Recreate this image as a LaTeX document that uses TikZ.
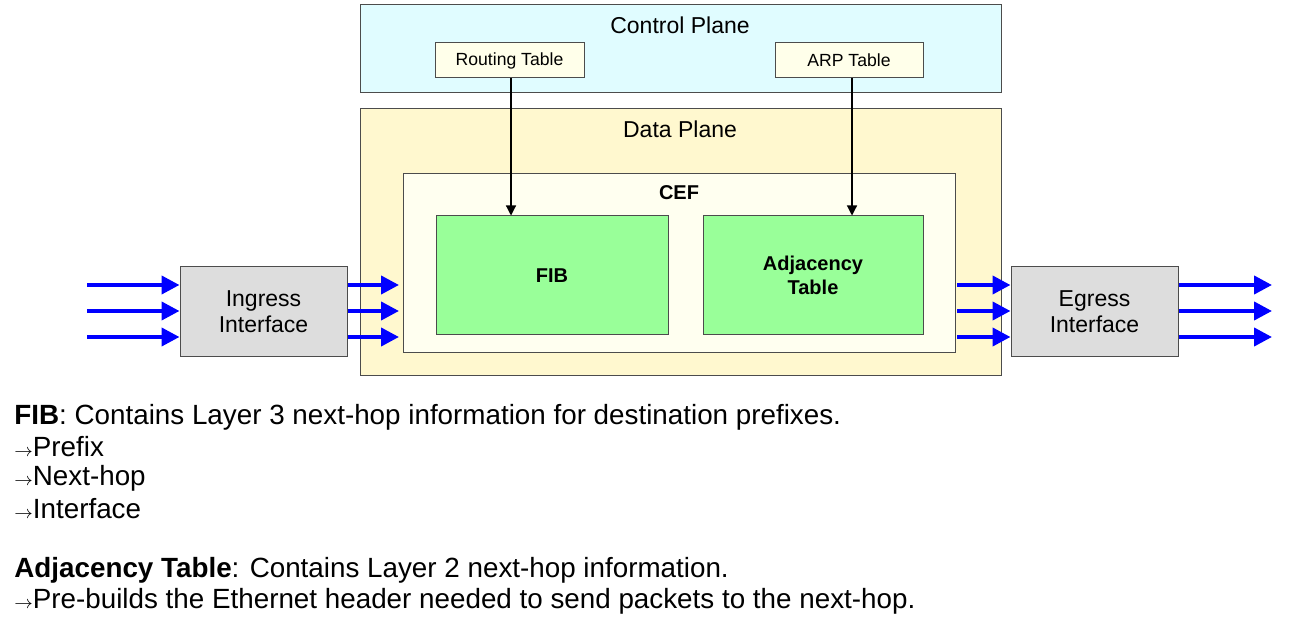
\documentclass[tikz,border=0pt]{standalone}
\usepackage{fontspec}
\setmainfont{Liberation Sans}
\usetikzlibrary{arrows.meta}
\definecolor{cpfill}{HTML}{E0FCFF}
\definecolor{dpfill}{HTML}{FFF8CF}
\definecolor{ceffill}{HTML}{FFFFF0}
\definecolor{tabfill}{HTML}{FFFFEA}
\definecolor{grnfill}{HTML}{99FF99}
\definecolor{gryfill}{HTML}{DDDDDD}
\tikzset{
 box/.style={draw=black!70, line width=0.5pt},
 blue arrow/.style={draw=blue, line width=2pt, -{Triangle[length=9pt,width=9pt]}},
 blk arrow/.style={draw=black, line width=0.6pt, -{Triangle[length=5pt,width=5pt]}},
 big/.style={font=\fontsize{11.5}{13}\selectfont},
 txt/.style={font=\fontsize{13.9}{16}\selectfont},
 small/.style={font=\fontsize{8.8}{10}\selectfont},
 bold/.style={font=\fontsize{10}{12}\selectfont\bfseries, align=center},
}
\newcommand{\myarr}{{\fontsize{9}{9}\selectfont$\rightarrow$}}
\begin{document}
\begin{tikzpicture}[x=0.5pt,y=-0.5pt]
\useasboundingbox (0,0) rectangle (1290,635);
\fill[white] (0,0) rectangle (1290,635);
% control plane
\draw[box, fill=cpfill] (360,5) rectangle (1001,93);
\node[big] (cp) at (680,25) {Control Plane};
\node[box, fill=tabfill, minimum width=74.5pt, minimum height=17.5pt, small] (rt) at (509.5,60.5) {Routing Table};
\node[box, fill=tabfill, minimum width=74pt, minimum height=17.5pt, small] (arp) at (849,60.5) {ARP Table};
% data plane
\draw[box, fill=dpfill] (360,109) rectangle (1001,376);
\node[big] (dp) at (680,129) {Data Plane};
\draw[box, fill=ceffill] (403,174) rectangle (955,353);
\node[bold] (cef) at (679,193) {CEF};
\node[box, fill=grnfill, minimum width=116pt, minimum height=59.5pt, bold] (fib) at (552,275.5) {FIB};
\node[box, fill=grnfill, minimum width=110pt, minimum height=59.5pt, bold] (adj) at (813,275.5) {Adjacency\\Table};
% interfaces
\node[box, fill=gryfill, minimum width=83.5pt, minimum height=45pt, big, align=center] (ing) at (263.5,312) {Ingress\\Interface};
\node[box, fill=gryfill, minimum width=83.5pt, minimum height=45pt, big, align=center] (egr) at (1094.5,312) {Egress\\Interface};
% black arrows
\draw[blk arrow] ([xshift=-20.5pt]fib.north |- rt.south) -- ([xshift=-20.5pt]fib.north);
\draw[blk arrow] ([xshift=19.5pt]adj.north |- arp.south) -- ([xshift=19.5pt]adj.north);
% blue arrows
\foreach \y in {285,311,337}{
 \coordinate (l\y) at (87,\y);
 \coordinate (r\y) at (1272,\y);
 \draw[blue arrow] (l\y) -- (ing.west |- l\y);
 \draw[blue arrow] (ing.east |- l\y) -- (399,\y);
 \draw[blue arrow] (957,\y) -- (egr.west |- l\y);
 \draw[blue arrow] (egr.east |- l\y) -- (r\y);
}
% text
\begin{scope}[every node/.style={anchor=west, txt, inner sep=0pt}]
\node (t1) at (14,417) {\textbf{FIB}: Contains Layer 3 next-hop information for destination prefixes.};
\node (t2) at (14,447) {\myarr Prefix};
\node (t3) at (14,478) {\myarr Next-hop};
\node (t4) at (14,509) {\myarr Interface};
\node (t5) at (14,570) {\textbf{Adjacency Table}: Contains Layer 2 next-hop information.};
\node (t6) at (14,601) {\myarr Pre-builds the Ethernet header needed to send packets to the next-hop.};
\end{scope}
\end{tikzpicture}
\end{document}
